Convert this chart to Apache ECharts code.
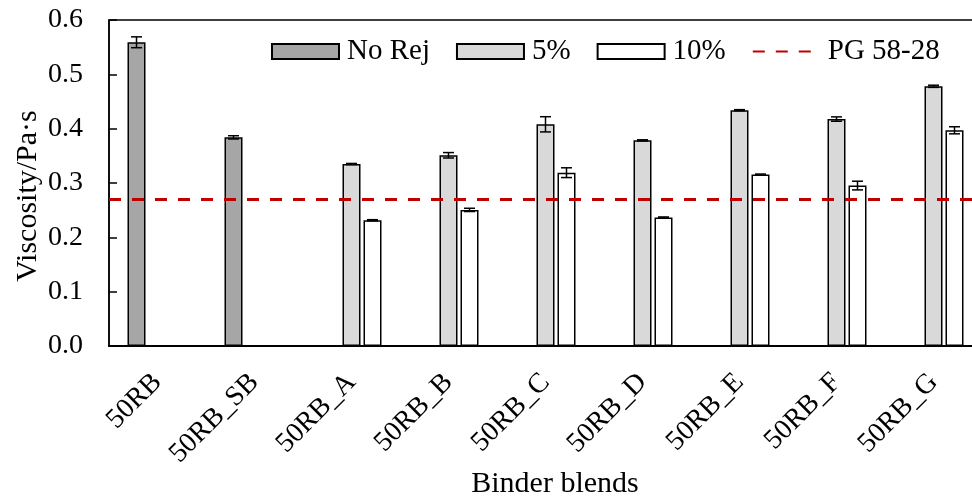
<!DOCTYPE html>
<html>
<head>
<meta charset="utf-8">
<script src="https://cdn.jsdelivr.net/npm/echarts@6/dist/echarts.min.js"></script>
<style>html,body{margin:0;padding:0;background:#fff;}#c{width:972px;height:496px;}</style>
</head>
<body>
<div id="c"></div>
<script>
const categories = ['50RB','50RB_SB','50RB_A','50RB_B','50RB_C','50RB_D','50RB_E','50RB_F','50RB_G'];
const noRej    = [0.559, 0.384, null, null, null, null, null, null, null];
const noRejErr = [0.010, 0.003, null, null, null, null, null, null, null];
const p5       = [null, null, 0.335, 0.351, 0.408, 0.3785, 0.434, 0.4177, 0.478];
const p5Err    = [null, null, 0.001, 0.005, 0.014, 0.001, 0.001, 0.004, 0.002];
const p10      = [null, null, 0.2315, 0.2505, 0.319, 0.2365, 0.3155, 0.2953, 0.397];
const p10Err   = [null, null, 0.001, 0.003, 0.009, 0.001, 0.001, 0.008, 0.0065];
const pgLimit  = 0.2665;
const yTicks   = ['0.0','0.1','0.2','0.3','0.4','0.5','0.6'];

const FONT = 'Liberation Serif';
const BAR_W = 18, BAR_GAP = 3;

function errSeries(name, vals, errs, slot) {
  const data = vals.map((v, i) => v == null ? null : [i, v - errs[i], v + errs[i]]).filter(d => d);
  return {
    type: 'custom', name: name + ' err', z: 5,
    data: data,
    renderItem: function (params, api) {
      const i = api.value(0);
      const lo = api.coord([i, api.value(1)]);
      const hi = api.coord([i, api.value(2)]);
      const x = lo[0] + slot * (BAR_W + BAR_GAP);
      const cap = 5.5;
      const st = { stroke: '#000', lineWidth: 1.5 };
      return { type: 'group', children: [
        { type: 'line', shape: { x1: x, y1: lo[1], x2: x, y2: hi[1] }, style: st },
        { type: 'line', shape: { x1: x - cap, y1: lo[1], x2: x + cap, y2: lo[1] }, style: st },
        { type: 'line', shape: { x1: x - cap, y1: hi[1], x2: x + cap, y2: hi[1] }, style: st }
      ]};
    },
    silent: true, tooltip: { show: false }
  };
}

const barStyle = c => ({ color: c, borderColor: '#000', borderWidth: 1.5 });

const chart = echarts.init(document.getElementById('c'), null, { renderer: 'canvas' });
chart.setOption({
  animation: false,
  textStyle: { fontFamily: FONT, color: '#000' },
  grid: { left: 109, top: 20, width: 873, height: 326, outerBoundsMode: 'none', containLabel: false,
    show: true, borderColor: '#000', borderWidth: 1.5, backgroundColor: 'transparent' },
  legend: {
    left: 271, top: 37, padding: 0, itemWidth: 67, itemHeight: 15, itemGap: 26,
    textStyle: { fontFamily: FONT, fontSize: 29, color: '#000', padding: [0, 0, 0, 3] },
    data: [
      { name: 'No Rej', icon: 'rect' },
      { name: '5%', icon: 'rect' },
      { name: '10%', icon: 'rect' },
      { name: 'PG 58-28', itemStyle: { color: 'rgba(0,0,0,0)', borderWidth: 0, opacity: 0 } }
    ]
  },
  xAxis: {
    type: 'category', data: categories,
    axisLine: { lineStyle: { color: '#000', width: 2 } },
    axisTick: { show: false },
    axisLabel: { rotate: 45, fontFamily: FONT, fontSize: 28, color: '#000', margin: 32, interval: 0 },
    splitLine: { show: false }
  },
  yAxis: {
    type: 'value', min: 0, max: 0.6, interval: 0.1,
    axisLine: { show: true, lineStyle: { color: '#000', width: 1.5 } },
    axisTick: { show: true, inside: true, length: 8, lineStyle: { color: '#000', width: 1.5 } },
    axisLabel: { fontFamily: FONT, fontSize: 28, color: '#000', margin: 26,
      formatter: (v) => yTicks[Math.round(v * 10)] },
    splitLine: { show: false }
  },
  graphic: [
    { type: 'text', x: 28, y: 196, rotation: Math.PI / 2,
      style: { text: 'Viscosity/Pa·s', font: '30px "Liberation Serif"', fill: '#000', textAlign: 'center', textVerticalAlign: 'middle' } },
    { type: 'text', x: 555, y: 484,
      style: { text: 'Binder blends', font: '30px "Liberation Serif"', fill: '#000', textAlign: 'center', textVerticalAlign: 'middle' } }
  ],
  series: [
    { name: 'No Rej', type: 'bar', data: noRej, barWidth: BAR_W, barGap: (BAR_GAP / BAR_W * 100) + '%', itemStyle: barStyle('#a6a6a6') },
    { name: '5%', type: 'bar', data: p5, barWidth: BAR_W, itemStyle: barStyle('#d9d9d9') },
    { name: '10%', type: 'bar', data: p10, barWidth: BAR_W, itemStyle: barStyle('#ffffff') },
    { name: 'PG 58-28', type: 'line', data: [], symbol: 'none',
      lineStyle: { color: '#c00000', width: 3, type: [12, 11] }, itemStyle: { color: '#c00000' },
      markLine: { silent: true, symbol: 'none', label: { show: false },
        lineStyle: { color: '#c00000', width: 3, type: [12, 11] },
        data: [{ yAxis: pgLimit }] } },
    errSeries('No Rej', noRej, noRejErr, -1),
    errSeries('5%', p5, p5Err, 0),
    errSeries('10%', p10, p10Err, 1)
  ]
});
</script>
</body>
</html>
